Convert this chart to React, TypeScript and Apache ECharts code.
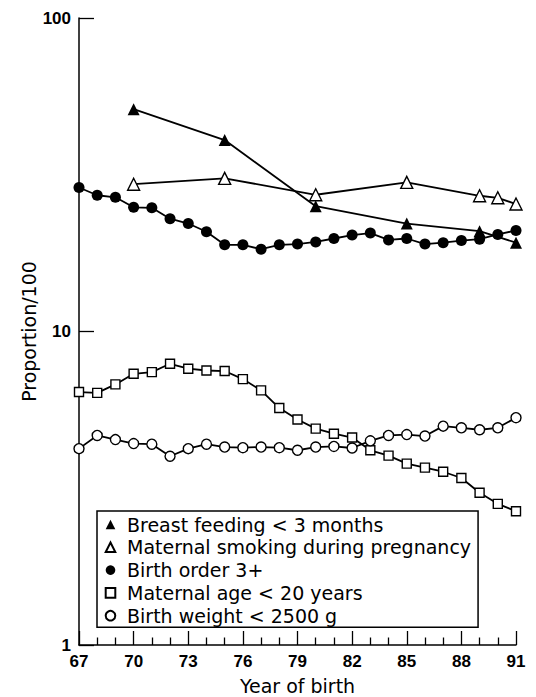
import React, { useEffect, useRef } from "react";
import * as echarts from "echarts";

const years = [67, 68, 69, 70, 71, 72, 73, 74, 75, 76, 77, 78, 79, 80, 81, 82, 83, 84, 85, 86, 87, 88, 89, 90, 91];
const birthOrder = [28.8, 27.2, 26.8, 24.9, 24.8, 22.9, 22.1, 20.8, 18.9, 18.9, 18.3, 18.9, 19.0, 19.3, 19.8, 20.3, 20.6, 19.6, 19.8, 19.0, 19.2, 19.5, 19.7, 20.4, 21.0];
const maternalAge = [6.41, 6.37, 6.78, 7.33, 7.42, 7.89, 7.61, 7.51, 7.48, 7.05, 6.49, 5.7, 5.24, 4.9, 4.72, 4.59, 4.18, 4.02, 3.79, 3.68, 3.57, 3.41, 3.06, 2.82, 2.67];
const birthWeight = [4.23, 4.66, 4.52, 4.39, 4.37, 4.0, 4.23, 4.37, 4.28, 4.26, 4.28, 4.26, 4.18, 4.28, 4.3, 4.25, 4.48, 4.66, 4.69, 4.64, 4.99, 4.93, 4.86, 4.93, 5.31];
const breastYears = [70, 75, 80, 85, 89, 91];
const breastFeeding = [51.2, 40.8, 25.1, 22.1, 20.9, 19.2];
const smokingYears = [70, 75, 80, 85, 89, 90, 91];
const maternalSmoking = [29.5, 30.8, 27.3, 29.9, 27.1, 26.7, 25.5];

const seriesNames = [
  "Breast feeding < 3 months",
  "Maternal smoking during pregnancy",
  "Birth order 3+",
  "Maternal age < 20 years",
  "Birth weight < 2500 g",
];

const pair = (xs: number[], ys: number[]) => xs.map((x, i) => [x, ys[i]]);

export default function App() {
  const ref = useRef<HTMLDivElement>(null);
  useEffect(() => {
    document.body.style.margin = "0";
    const chart = echarts.init(ref.current!, undefined, { renderer: "svg" });
    const textFont = "DejaVu Sans";
    const lineStyle = { color: "#000", width: 1.8 };
    const mk = (name: string, data: number[][], symbol: string, size: number, filled: boolean) => ({
      name,
      type: "line",
      data,
      symbol,
      symbolSize: size,
      showSymbol: true,
      silent: true,
      lineStyle,
      itemStyle: filled
        ? { color: "#000", borderColor: "#000", borderWidth: 0 }
        : { color: "#fff", borderColor: "#000", borderWidth: 1.4 },
      emphasis: { disabled: true },
    });
    chart.setOption({
      animation: false,
      backgroundColor: "#fff",
      grid: { left: 79, right: 20, top: 18, bottom: 52, outerBoundsMode: "none", containLabel: false },
      xAxis: {
        type: "value",
        min: 67,
        max: 91,
        interval: 3,
        name: "Year of birth",
        nameLocation: "middle",
        nameGap: 31,
        nameMoveOverlap: false,
        nameTextStyle: { fontFamily: textFont, fontSize: 19, color: "#000" },
        axisLine: { lineStyle: { color: "#000", width: 1.5 } },
        axisTick: { show: true, inside: true, length: 14, lineStyle: { color: "#000", width: 1.3 } },
        minorTick: { show: true, splitNumber: 3, length: 7.5, lineStyle: { color: "#000", width: 1.3 } },
        axisLabel: { margin: 8, fontFamily: "Liberation Sans", fontWeight: "bold", fontSize: 17, color: "#000" },
        splitLine: { show: false },
        minorSplitLine: { show: false },
      },
      yAxis: {
        type: "log",
        logBase: 10,
        min: 1,
        max: 100,
        name: "Proportion/100",
        nameLocation: "middle",
        nameGap: 41,
        nameMoveOverlap: false,
        nameRotate: 90,
        nameTextStyle: { fontFamily: textFont, fontSize: 19, color: "#000" },
        axisLine: { show: true, lineStyle: { color: "#000", width: 1.5 } },
        axisTick: { show: true, inside: true, length: 15, lineStyle: { color: "#000", width: 1.3 } },
        axisLabel: { margin: 8, fontFamily: "Liberation Sans", fontWeight: "bold", fontSize: 17, color: "#000" },
        splitLine: { show: false },
      },
      legend: {
        orient: "vertical",
        left: 97,
        top: 511,
        width: 382,
        padding: [4, 7, 2, 1],
        borderColor: "#000",
        borderWidth: 1.5,
        itemWidth: 23,
        itemHeight: 12,
        itemGap: 3.8,
        selectedMode: false,
        data: seriesNames,
        lineStyle: { opacity: 0 },
        textStyle: { fontFamily: textFont, fontSize: 19, color: "#000", padding: [0, 0, 0, 0] },
      },
      series: [
        mk(seriesNames[0], pair(breastYears, breastFeeding), "triangle", 12, true),
        mk(seriesNames[1], pair(smokingYears, maternalSmoking), "triangle", 12, false),
        mk(seriesNames[2], pair(years, birthOrder), "circle", 11, true),
        mk(seriesNames[3], pair(years, maternalAge), "rect", 9, false),
        mk(seriesNames[4], pair(years, birthWeight), "circle", 10, false),
      ],
    });
    return () => chart.dispose();
  }, []);
  return <div ref={ref} style={{ width: 536, height: 697 }} />;
}
